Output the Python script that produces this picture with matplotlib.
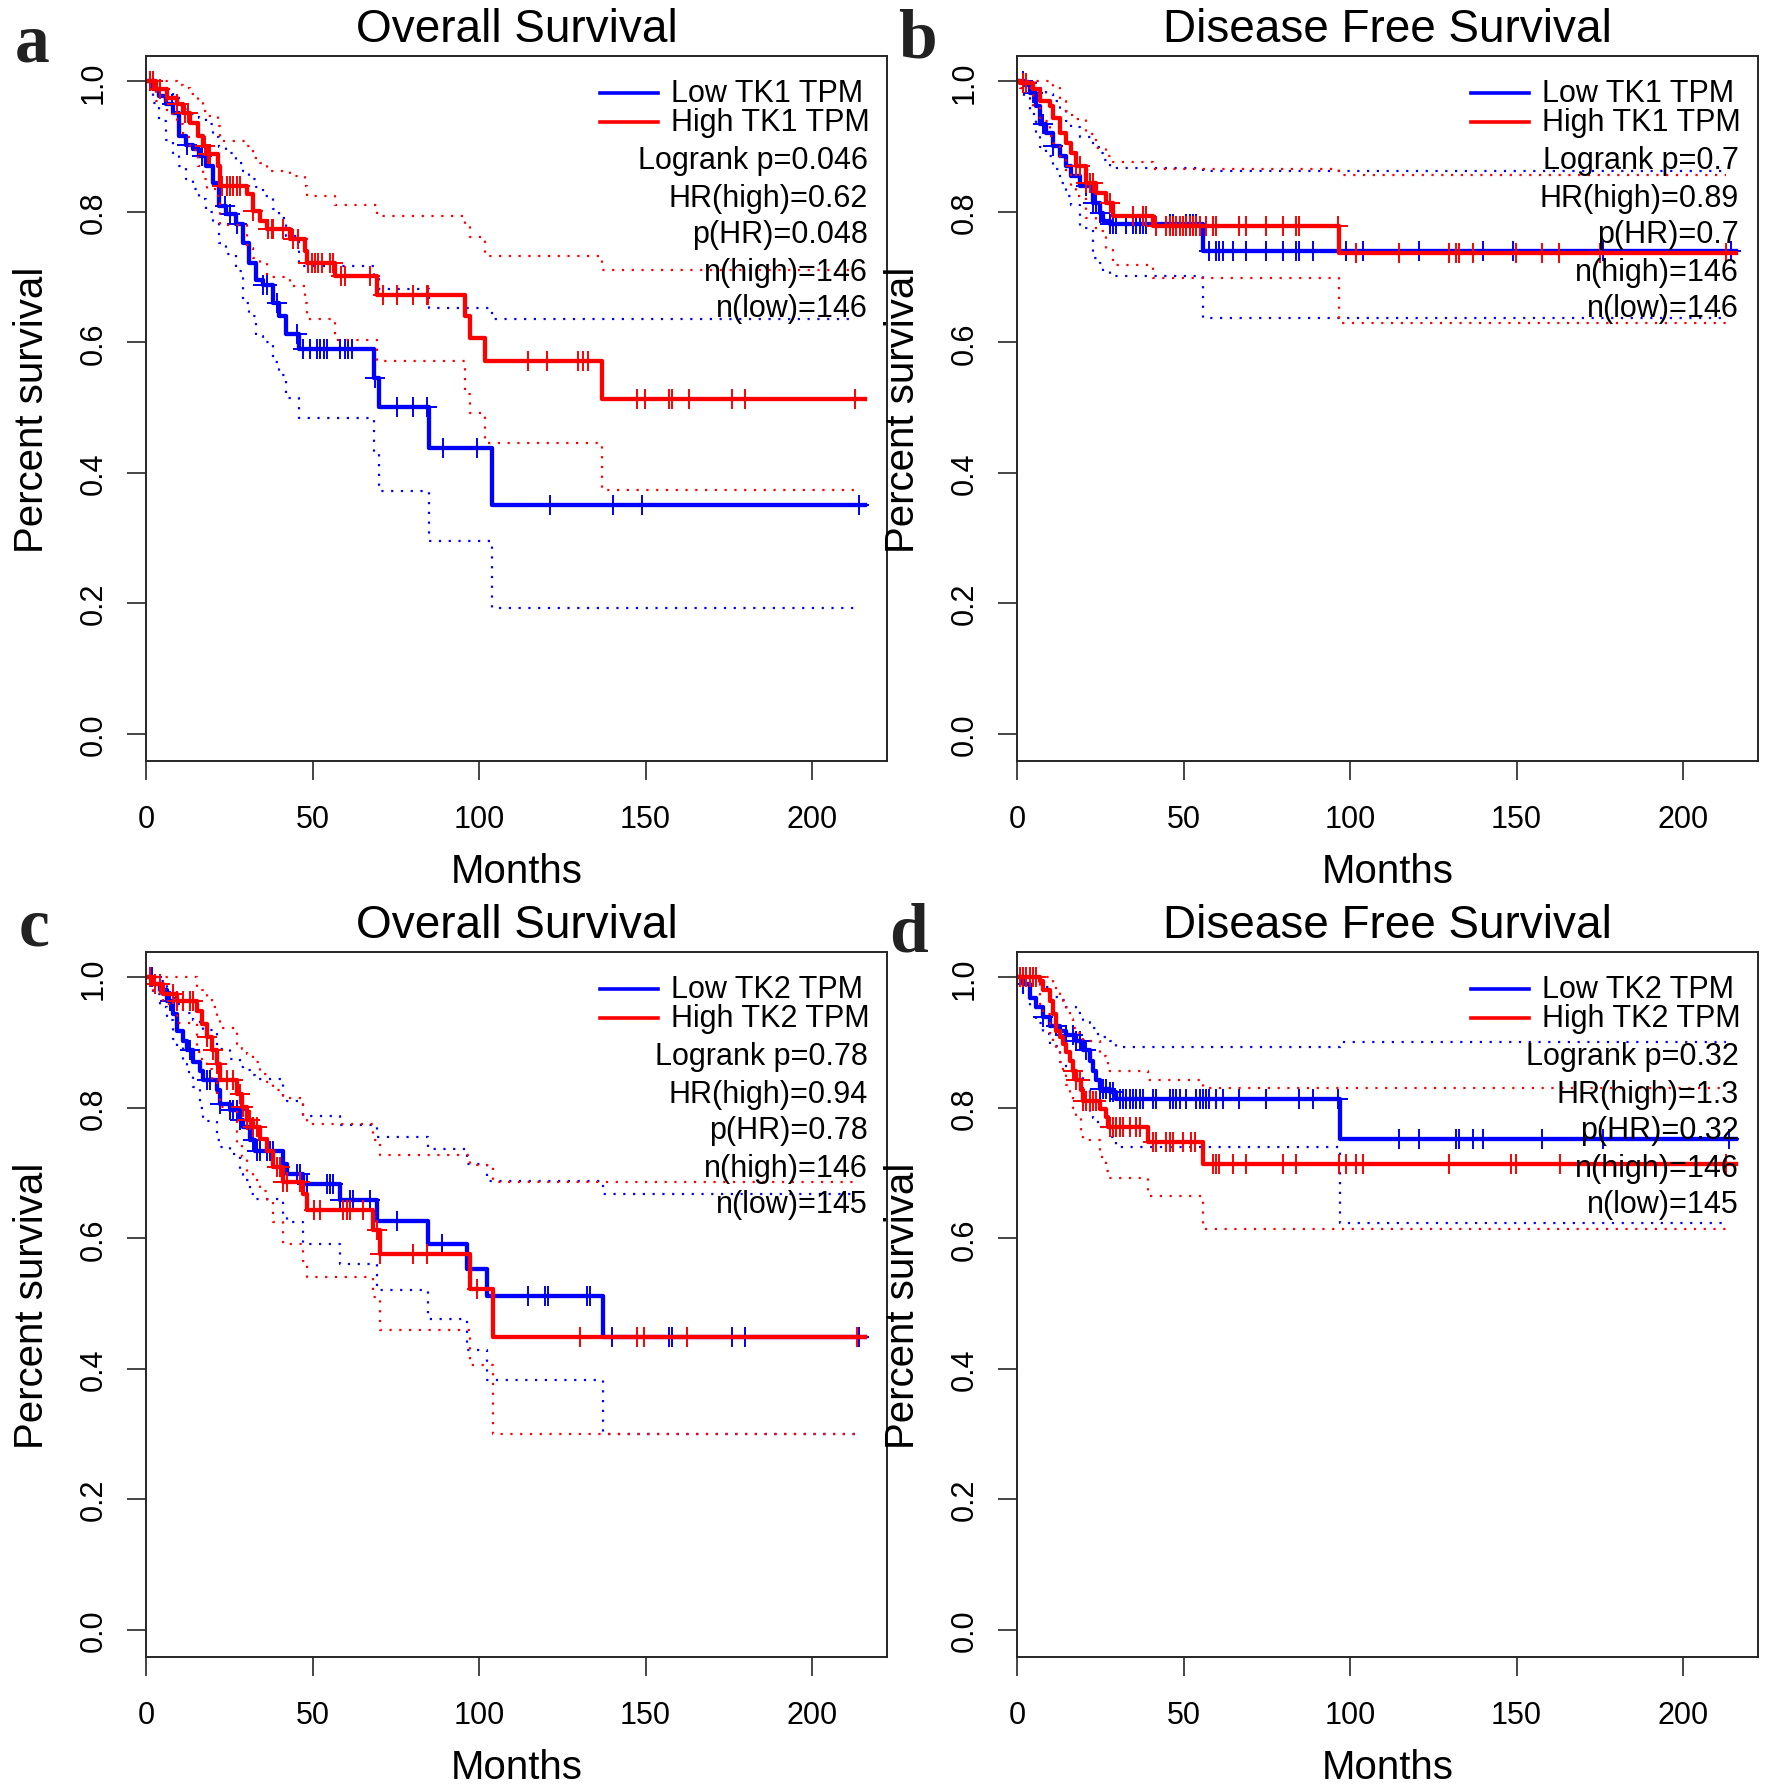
import numpy as np
import matplotlib
matplotlib.use("Agg")
import matplotlib.pyplot as plt

plt.rcParams['font.family'] = ['Liberation Sans', 'DejaVu Sans']

# ---- a: Overall Survival, TK1 ----
a_low_t = [0, 2, 4, 6, 8, 10, 12, 14, 16, 18, 20, 22, 24, 27, 29, 31, 33, 35, 38, 40, 42, 46, 68.5, 70, 85, 104]
a_low_s = [1, .988, .977, .965, .952, .916, .903, .896, .885, .870, .845, .809, .796, .781, .752, .722, .696, .688, .660, .640, .612, .589, .546, .501, .438, .351]
a_low_hi = [1, .998, .99, .983, .977, .965, .957, .95, .944, .935, .915, .9, .89, .875, .862, .85, .838, .825, .805, .79, .763, .717, .70, .681, .653, .635]
a_low_lo = [1, .967, .94, .91, .89, .87, .85, .835, .82, .80, .785, .752, .735, .71, .661, .64, .61, .60, .57, .55, .515, .484, .43, .372, .295, .192]
a_low_cens = [7.7, 12.2, 16.7, 23.7, 25.2, 27.2, 35.2, 36.2, 39.2, 45.2, 47.2, 49.3, 51.3, 52.3, 53.3, 54.3, 58.3, 59.8,
              60.8, 61.8, 68.8, 75.3, 80.3, 84.3, 89.3, 99.3, 121.3, 140.3, 148.9, 214]

a_high_t = [0, 3, 6.2, 9.2, 11.2, 13.2, 15.7, 17.2, 18.2, 21.7, 22.2, 30.2, 32.2, 34.2, 36.2, 43.2, 47.7, 48.2, 56.8, 69.3, 95.8, 97.3, 101.8, 136.8]
a_high_s = [1, .988, .975, .965, .952, .937, .916, .901, .888, .870, .839, .827, .801, .786, .773, .758, .740, .722, .701, .673, .640, .607, .571, .513]
a_high_hi = [1, 1, 1, .995, .99, .98, .967, .955, .947, .931, .908, .901, .883, .875, .862, .855, .839, .824, .811, .793, .78, .762, .732, .711]
a_high_lo = [1, .97, .95, .935, .915, .895, .87, .85, .835, .815, .78, .745, .73, .722, .70, .686, .661, .635, .604, .572, .52, .492, .446, .374]
a_high_cens = [1.2, 2.2, 4.2, 9.2, 11.7, 12.7, 17.7, 18.7, 19.2, 22.7, 24.2, 25.2, 26.2, 27.2, 28.2, 32.2, 36.7, 37.7, 38.2,
               41.2, 44.2, 45.7, 48.7, 49.7, 50.7, 51.7, 52.7, 55.2, 56.2, 58.7, 59.7, 67.2, 71.3, 75.3, 80.3, 84.3, 84.8,
               114.8, 120.3, 129.8, 131.3, 132.8, 147.3, 149.8, 157, 158, 163, 176, 180, 213]

# ---- b: Disease Free Survival, TK1 ----
b_low_t = [0, 2, 3.8, 5.8, 6.8, 8.8, 10.8, 12.8, 14.8, 16.3, 18.8, 22.8, 24.8, 25.8, 27.8, 55.8]
b_low_s = [1, .995, .983, .962, .934, .921, .901, .885, .870, .855, .839, .814, .798, .786, .782, .740]
b_low_hi = [1, 1, 1, .995, .99, .98, .97, .957, .94, .93, .915, .9, .89, .88, .868, .862]
b_low_lo = [1, .975, .95, .92, .90, .885, .865, .845, .825, .81, .775, .73, .722, .71, .701, .637]
b_low_cens = [1.8, 4.8, 7.8, 10.8, 20.8, 22.8, 23.8, 24.8, 27.8, 28.8, 29.8, 32.8, 34.8, 35.8, 36.8, 37.8, 38.8, 45.8,
              46.8, 50.8, 51.8, 52.8, 53.8, 57.8, 59.8, 60.8, 61.8, 64.8, 68.8, 74.8, 79.8, 83.8, 84.8, 88.8, 98.8,
              103.8, 120.8, 139.8, 149, 176, 214.5]

b_high_t = [0, 1, 4.8, 6.8, 9.8, 10.8, 12.8, 14.8, 16.3, 17.8, 20.8, 23.8, 26.8, 28.8, 40.8, 96.8]
b_high_s = [1, .998, .988, .97, .962, .944, .921, .906, .890, .870, .844, .829, .814, .793, .778, .737]
b_high_hi = [1, 1, 1, 1, .995, .99, .97, .955, .948, .942, .92, .898, .885, .877, .865, .857]
b_high_lo = [1, .99, .96, .94, .916, .905, .88, .86, .84, .825, .79, .77, .742, .719, .699, .63]
b_high_cens = [1.8, 2.8, 17.8, 18.8, 20.8, 21.8, 22.8, 27.8, 34.8, 37.8, 38.8, 41.8, 44.8, 45.8, 46.8, 47.8, 48.8,
               49.8, 50.8, 51.8, 52.8, 53.8, 54.8, 56.8, 58.8, 59.8, 66.8, 68.8, 74.8, 79.8, 83.8, 84.8, 96.3, 101.8,
               114.8, 129.8, 131.8, 132.8, 136.8, 149.8, 157.7, 162.8, 175.2, 213]

# ---- c: Overall Survival, TK2 ----
c_low_t = [0, 2, 4.2, 6.2, 8.2, 9.2, 11.2, 12.2, 14.2, 16.2, 17.2, 21.2, 22.2, 25.2, 28.2, 29.2, 31.2, 32.7, 41.2,
           42.2, 47.2, 58.2, 69.3, 84.8, 96.3, 102.3, 137.2]
c_low_s = [1, .99, .98, .964, .944, .918, .903, .888, .870, .857, .842, .827, .806, .796, .781, .770, .750, .734,
           .714, .698, .683, .658, .627, .591, .553, .512, .448]
c_low_hi = [1, 1, .995, .985, .969, .96, .95, .945, .935, .928, .92, .895, .89, .875, .862, .858, .85, .845, .816,
            .81, .788, .773, .755, .737, .714, .688, .668]
c_low_lo = [1, .975, .955, .935, .905, .893, .867, .855, .832, .80, .78, .75, .74, .73, .698, .69, .668, .66, .637,
            .625, .591, .561, .52, .476, .428, .382, .30]
c_low_cens = [1.7, 7.2, 13.2, 18.2, 19.2, 22.2, 25.2, 26.2, 27.2, 28.2, 32.2, 33.2, 34.2, 36.2, 37.2, 38.2, 45.2, 46.2,
              48.2, 54.3, 55.3, 56.3, 58.3, 61.3, 62.3, 67.3, 75.3, 88.8, 114.8, 119.8, 120.8, 132.3, 133.3, 140,
              157, 158, 176, 180, 214]

c_high_t = [0, 2.2, 5.2, 9.2, 15.2, 16.7, 18.2, 19.7, 21.2, 22.2, 27.2, 28.7, 30.2, 32.2, 34.2, 36.2, 38.2, 41.2,
            47.2, 48.2, 68.3, 70.3, 97.3, 104.1]
c_high_s = [1, .99, .975, .964, .949, .929, .908, .888, .867, .842, .821, .801, .781, .770, .752, .734, .709, .686,
            .668, .643, .612, .576, .522, .448]
c_high_hi = [1, 1, 1, 1, .985, .98, .97, .955, .935, .923, .898, .89, .882, .87, .852, .84, .827, .815, .786, .775,
             .75, .727, .712, .686]
c_high_lo = [1, .98, .96, .93, .885, .872, .86, .84, .82, .801, .745, .724, .70, .69, .673, .655, .625, .591, .565,
             .54, .51, .459, .405, .30]
c_high_cens = [1.2, 2.7, 4.2, 8.2, 9.2, 11.2, 13.2, 14.2, 18.2, 20.2, 21.2, 24.2, 26.2, 28.2, 29.2, 30.2, 31.2, 32.2,
               33.2, 39.2, 40.2, 41.2, 42.2, 46.2, 50.3, 52.3, 59.3, 60.3, 61.3, 65.3, 69.3, 70.3, 80.3, 84.3, 99.3,
               130.3, 147.3, 149.5, 162.5, 213.5]

# ---- d: Disease Free Survival, TK2 ----
d_low_t = [0, 1.8, 3.8, 5.8, 7.8, 9.8, 12.8, 14.8, 17.8, 19.8, 21.8, 22.8, 23.8, 24.8, 27.8, 29.8, 97.0]
d_low_s = [1, .990, .969, .954, .939, .926, .918, .911, .903, .888, .872, .857, .842, .829, .824, .814, .752]
d_low_hi = [1, 1, 1, .99, .985, .97, .965, .955, .946, .935, .93, .923, .913, .908, .902, .894, .901]
d_low_lo = [1, .975, .955, .93, .913, .895, .87, .86, .85, .827, .79, .785, .778, .77, .755, .74, .624]
d_low_cens = [1.8, 7.8, 11.8, 14.8, 16.8, 17.8, 18.8, 20.8, 24.8, 25.8, 26.8, 27.8, 28.8, 30.8, 31.8, 32.8, 33.8,
              34.8, 35.8, 36.8, 37.8, 40.8, 41.8, 45.8, 46.8, 47.8, 48.8, 50.8, 53.8, 54.8, 55.8, 56.8, 57.8, 59.8,
              61.8, 66.8, 74.8, 84.8, 88.8, 96.3, 114.8, 120.8, 131.8, 132.8, 136.8, 139.8, 157.7, 176, 213.7]

d_high_t = [0, 6.8, 7.8, 9.8, 10.8, 11.8, 12.8, 13.8, 14.8, 15.8, 16.8, 17.8, 19.3, 19.8, 24.8, 26.8, 27.3, 39.3, 56.0]
d_high_s = [1, .995, .980, .964, .944, .918, .908, .898, .885, .872, .857, .842, .827, .811, .798, .786, .770, .747, .714]
d_high_hi = [1, 1, 1, .998, .99, .98, .972, .96, .949, .936, .923, .915, .908, .903, .88, .87, .857, .843, .830]
d_high_lo = [1, .96, .944, .915, .898, .885, .87, .857, .835, .816, .80, .786, .755, .75, .724, .703, .693, .665, .614]
d_high_cens = [0.8, 1.8, 2.8, 3.8, 4.8, 5.8, 16.8, 17.8, 18.8, 19.8, 20.8, 21.8, 22.8, 23.8, 27.8, 28.8, 29.8, 30.8,
               31.8, 33.8, 35.8, 36.8, 40.8, 41.8, 44.8, 45.8, 46.8, 49.8, 52.3, 53.3, 58.8, 59.8, 60.8, 64.8, 68.8,
               79.8, 83.8, 96.8, 98.8, 101.8, 103.8, 129.8, 148.3, 149.7, 162.9, 213]

titles = ["Overall Survival", "Disease Free Survival", "Overall Survival", "Disease Free Survival"]
letters = ["a", "b", "c", "d"]
genes = ["TK1", "TK1", "TK2", "TK2"]
logrank_p = ["0.046", "0.7", "0.78", "0.32"]
hr_high = ["0.62", "0.89", "0.94", "1.3"]
p_hr = ["0.048", "0.7", "0.78", "0.32"]
n_high = [146, 146, 146, 146]
n_low = [146, 146, 145, 145]

LOW_COL = "#0000FF"
HIGH_COL = "#FF0000"
AX_COL = "#262626"
W, H = 1772, 1790
AXW, AXH = 741, 705


def step_at(t, s, x):
    t = np.asarray(t)
    s = np.asarray(s)
    idx = np.searchsorted(t, np.asarray(x), side="right") - 1
    return s[idx]


def draw_group(ax, t, s, lo, hi, cens, color, t_end=216, ci_end=213):
    for ci in (hi, lo):
        ax.plot(np.append(t, ci_end), np.append(ci, ci[-1]), drawstyle="steps-post",
                color=color, lw=1.6, ls=(0, (1, 3.4)))
    ax.plot(np.append(t, t_end), np.append(s, s[-1]), drawstyle="steps-post", color=color, lw=3.1)
    ax.plot(cens, step_at(t, s, cens), ls="none", marker="+", ms=14, mew=1.4, color=color)


fig = plt.figure(figsize=(W / 100, H / 100), dpi=100)

panels = [
    (146, 57, (a_low_t, a_low_s, a_low_lo, a_low_hi, a_low_cens), (a_high_t, a_high_s, a_high_lo, a_high_hi, a_high_cens)),
    (1017, 57, (b_low_t, b_low_s, b_low_lo, b_low_hi, b_low_cens), (b_high_t, b_high_s, b_high_lo, b_high_hi, b_high_cens)),
    (146, 953, (c_low_t, c_low_s, c_low_lo, c_low_hi, c_low_cens), (c_high_t, c_high_s, c_high_lo, c_high_hi, c_high_cens)),
    (1017, 953, (d_low_t, d_low_s, d_low_lo, d_low_hi, d_low_cens), (d_high_t, d_high_s, d_high_lo, d_high_hi, d_high_cens)),
]
letter_pos = [(32, 61), (917, 57), (34, 946), (908, 952)]

for i, (px, py, low, high) in enumerate(panels):
    ax = fig.add_axes([px / W, 1 - (py + AXH) / H, AXW / W, AXH / H])
    draw_group(ax, *low, LOW_COL)
    draw_group(ax, *high, HIGH_COL)

    ax.set_xlim(0, 222.5)
    ax.set_ylim(-0.042, 1.039)
    ax.set_xticks([0, 50, 100, 150, 200])
    ax.set_xticklabels(["0", "50", "100", "150", "200"])
    ax.set_yticks([0, 0.2, 0.4, 0.6, 0.8, 1.0])
    ax.set_yticklabels(["0.0", "0.2", "0.4", "0.6", "0.8", "1.0"], rotation=90, va="center")
    ax.tick_params(axis="both", direction="out", length=13.7, width=1.2, color=AX_COL, labelsize=22)
    ax.tick_params(axis="x", pad=17.5)
    ax.tick_params(axis="y", pad=13)
    for sp in ax.spines.values():
        sp.set_color(AX_COL)
        sp.set_linewidth(1.4)

    ax.text(0.5, 1.039, titles[i], transform=ax.transAxes, ha="center", va="center", fontsize=33)
    ax.text(0.5, -0.156, "Months", transform=ax.transAxes, ha="center", va="center", fontsize=29)
    ax.text(-0.154, 0.5, "Percent survival", transform=ax.transAxes, ha="center", va="center",
            rotation=90, fontsize=29)

    # legend
    for yy, col, lab in ((0.948, LOW_COL, "Low %s TPM" % genes[i]), (0.907, HIGH_COL, "High %s TPM" % genes[i])):
        ax.plot([0.613, 0.691], [yy, yy], transform=ax.transAxes, color=col, lw=2.6, clip_on=False)
        ax.text(0.708, yy, lab, transform=ax.transAxes, ha="left", va="center", fontsize=22)
    stats = ["Logrank p=%s" % logrank_p[i], "HR(high)=%s" % hr_high[i], "p(HR)=%s" % p_hr[i],
             "n(high)=%d" % n_high[i], "n(low)=%d" % n_low[i]]
    for yy, txt in zip([0.852, 0.799, 0.747, 0.694, 0.643], stats):
        ax.text(0.974, yy, txt, transform=ax.transAxes, ha="right", va="center", fontsize=22)

    lx, ly = letter_pos[i]
    fig.text(lx / W, 1 - ly / H, letters[i], ha="center", va="baseline", fontsize=50,
             fontweight="bold", family=["Liberation Serif", "DejaVu Serif"], color="#222222")

fig.savefig("out.png", dpi=100)
